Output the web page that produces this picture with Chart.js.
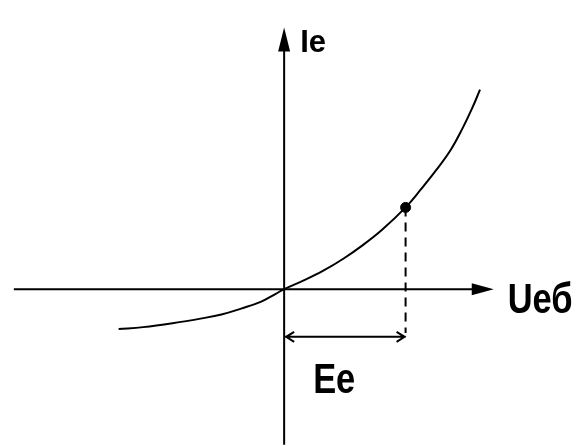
<!DOCTYPE html>
<html>
<head>
<meta charset="utf-8">
<style>
  html, body { margin: 0; padding: 0; background: #fff; }
  #wrap { width: 582px; height: 446px; }
</style>
<script src="https://cdn.jsdelivr.net/npm/chart.js@4/dist/chart.umd.min.js"></script>
</head>
<body>
<div id="wrap"><canvas id="iv"></canvas></div>
<script>
"use strict";

// Input characteristic Ie(Ueb), origin at the axes crossing
const curveU = [-169, -144, -114, -84, -64, -44, -24, -9, 0, 20, 40, 60, 80, 100, 124, 140, 155, 170, 182, 192, 200];
const curveI = [-41, -39, -35, -30, -26, -20, -13, -5, 0, 9, 19, 31, 45, 61, 84, 103, 122, 143, 165, 186, 205];

// Operating point: U = Ee
const pointU = [124];
const pointI = [84];

// Axis extents and annotation levels
const axisU = [-276, 214];
const axisI = [-160, 269];
const dimLevel = -49;
const dashEnd = -45;

const axisLabels = ["Ie", "Uеб", "Ee"];

const toXY = (xs, ys) => xs.map((x, i) => ({ x: x, y: ys[i] }));

/**
 * Draws the axes with arrow heads, the projection of the operating
 * point and the Ee dimension line.
 */
const axesPlugin = {
  id: "axesPlugin",
  beforeDatasetsDraw(chart) {
    const ctx = chart.ctx;
    const sx = chart.scales.x;
    const sy = chart.scales.y;
    const ox = sx.getPixelForValue(0);
    const oy = sy.getPixelForValue(0);

    ctx.save();
    ctx.strokeStyle = "#000";
    ctx.fillStyle = "#000";
    ctx.lineWidth = 2;

    // horizontal axis
    const xEnd = sx.getPixelForValue(axisU[1]);
    ctx.beginPath();
    ctx.moveTo(sx.getPixelForValue(axisU[0]), oy);
    ctx.lineTo(xEnd - 10, oy);
    ctx.stroke();
    ctx.beginPath();
    ctx.moveTo(xEnd, oy);
    ctx.lineTo(xEnd - 22, oy - 6);
    ctx.lineTo(xEnd - 22, oy + 6);
    ctx.closePath();
    ctx.fill();

    // vertical axis
    const yTop = sy.getPixelForValue(axisI[1]);
    ctx.beginPath();
    ctx.moveTo(ox, sy.getPixelForValue(axisI[0]));
    ctx.lineTo(ox, yTop + 10);
    ctx.stroke();
    ctx.beginPath();
    ctx.moveTo(ox, yTop);
    ctx.lineTo(ox - 6, yTop + 24);
    ctx.lineTo(ox + 6, yTop + 24);
    ctx.closePath();
    ctx.fill();

    // dashed drop line from the operating point
    const px = sx.getPixelForValue(pointU[0]);
    ctx.setLineDash([9, 6]);
    ctx.beginPath();
    ctx.moveTo(px, sy.getPixelForValue(pointI[0]));
    ctx.lineTo(px, sy.getPixelForValue(dashEnd));
    ctx.stroke();
    ctx.setLineDash([]);

    // Ee dimension line with open arrow heads
    const dy = sy.getPixelForValue(dimLevel);
    ctx.beginPath();
    ctx.moveTo(ox + 1, dy);
    ctx.lineTo(px, dy);
    ctx.moveTo(ox + 10, dy - 5);
    ctx.lineTo(ox + 2, dy);
    ctx.lineTo(ox + 10, dy + 5);
    ctx.moveTo(px - 9, dy - 5);
    ctx.lineTo(px - 1, dy);
    ctx.lineTo(px - 9, dy + 5);
    ctx.stroke();

    // labels
    ctx.textBaseline = "alphabetic";
    ctx.textAlign = "left";
    ctx.font = "bold 31px 'Liberation Sans', Arial, sans-serif";
    ctx.fillText(axisLabels[0], ox + 16, yTop + 25);

    const tall = (text, x, y) => {
      ctx.save();
      ctx.translate(x, y);
      ctx.scale(0.82, 1);
      ctx.font = "bold 42px 'Liberation Sans', Arial, sans-serif";
      ctx.fillText(text, 0, 0);
      ctx.restore();
    };
    tall(axisLabels[1], xEnd + 14, oy + 24);
    tall(axisLabels[2], ox + 29, oy + 104);

    ctx.restore();
  }
};

const renderChart = () => {
  const ctx = document.getElementById("iv").getContext("2d");
  new Chart(ctx, {
    type: "scatter",
    data: {
      datasets: [
        {
          data: toXY(curveU, curveI),
          showLine: true,
          borderColor: "#000",
          borderWidth: 2,
          pointRadius: 0,
          tension: 0.4
        },
        {
          data: toXY(pointU, pointI),
          pointRadius: 5,
          pointBackgroundColor: "#000",
          pointBorderColor: "#000"
        }
      ]
    },
    options: {
      responsive: true,
      maintainAspectRatio: false,
      animation: false,
      layout: { padding: 0 },
      plugins: {
        legend: { display: false },
        tooltip: { enabled: false }
      },
      scales: {
        x: { type: "linear", min: -284, max: 298, display: false },
        y: { type: "linear", min: -155, max: 291, display: false }
      }
    },
    plugins: [axesPlugin]
  });
};

document.addEventListener("DOMContentLoaded", renderChart);
</script>
</body>
</html>
